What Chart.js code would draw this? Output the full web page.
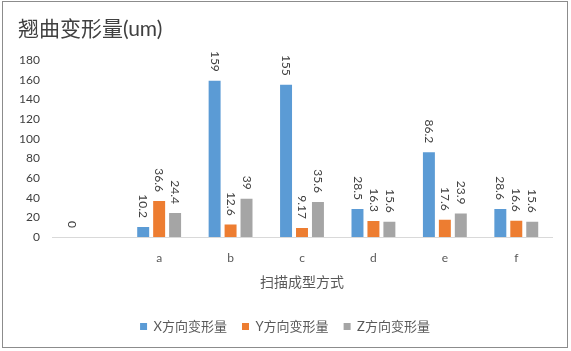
<!DOCTYPE html>
<html>
<head>
<meta charset="utf-8">
<script src="https://cdn.jsdelivr.net/npm/chart.js@4/dist/chart.umd.min.js"></script>
<style>
  html, body { margin: 0; padding: 0; background: #fff; }
  #wrap { width: 571px; height: 351px; position: relative; }
</style>
</head>
<body>
<div id="wrap"><canvas id="c" width="571" height="351"></canvas></div>
<script>
const categories = ['', 'a', 'b', 'c', 'd', 'e', 'f'];
const seriesNames = ['X方向变形量', 'Y方向变形量', 'Z方向变形量'];
const xValues = [0, 10.2, 159, 155, 28.5, 86.2, 28.6];
const yValues = [null, 36.6, 12.6, 9.17, 16.3, 17.6, 16.6];
const zValues = [null, 24.4, 39, 35.6, 15.6, 23.9, 15.6];
const seriesColors = ['#5B9BD5', '#ED7D31', '#A5A5A5'];
const yTicks = { min: 0, max: 180, step: 20 };
const chartTitle = '翘曲变形量(um)';
const xAxisTitle = '扫描成型方式';

const FONT = "Lato, 'Noto Sans CJK SC', sans-serif";

const frame = {
  id: 'frame',
  beforeDraw(chart) {
    const ctx = chart.ctx;
    ctx.save();
    ctx.fillStyle = '#fff';
    ctx.fillRect(0, 0, chart.width, chart.height);
    ctx.strokeStyle = '#8c8c8c';
    ctx.lineWidth = 1;
    ctx.strokeRect(2.5, 1.5, 565, 346);
    ctx.restore();
  }
};

const valueLabels = {
  id: 'valueLabels',
  afterDatasetsDraw(chart) {
    const ctx = chart.ctx;
    ctx.save();
    ctx.font = '12px ' + FONT;
    ctx.fillStyle = '#404040';
    ctx.textAlign = 'left';
    ctx.textBaseline = 'middle';
    chart.data.datasets.forEach((ds, di) => {
      const meta = chart.getDatasetMeta(di);
      meta.data.forEach((el, i) => {
        const v = ds.data[i];
        if (v === null || v === undefined) return;
        const txt = String(v);
        const w = ctx.measureText(txt).width;
        ctx.save();
        ctx.translate(el.x, el.y - 9 - w);
        ctx.rotate(Math.PI / 2);
        ctx.fillText(txt, 0, 0);
        ctx.restore();
      });
    });
    ctx.restore();
  }
};

new Chart(document.getElementById('c'), {
  type: 'bar',
  data: {
    labels: categories,
    datasets: [xValues, yValues, zValues].map((d, i) => ({
      label: seriesNames[i],
      data: d,
      backgroundColor: seriesColors[i],
      borderWidth: 0,
      categoryPercentage: 0.67,
      barPercentage: 0.75
    }))
  },
  options: {
    responsive: false,
    animation: false,
    layout: { padding: { left: 18, right: 19, top: 10, bottom: 8 } },
    scales: {
      x: {
        grid: { display: false, drawTicks: false },
        border: { display: true, color: '#d9d9d9', width: 1 },
        ticks: { color: '#595959', font: { family: FONT, size: 12 }, padding: 14, maxRotation: 0 },
        title: { display: true, text: xAxisTitle, color: '#595959', font: { family: FONT, size: 14 }, padding: { top: 10, bottom: 14 } },
        afterFit(scale) { scale.height = 68; }
      },
      y: {
        min: yTicks.min,
        max: yTicks.max,
        grid: { display: false, drawTicks: false },
        border: { display: false },
        ticks: { stepSize: yTicks.step, color: '#404040', font: { family: FONT, size: 12 }, padding: 12 },
        afterFit(scale) { scale.width = 34; }
      }
    },
    plugins: {
      title: {
        display: true, text: chartTitle, align: 'start', color: '#404040',
        font: { family: FONT, size: 21, weight: 'normal' },
        padding: { top: 7, bottom: 18 }
      },
      legend: {
        position: 'bottom',
        labels: {
          boxWidth: 7, boxHeight: 7, padding: 15, color: '#595959',
          font: { family: FONT, size: 13 }
        }
      },
      tooltip: { enabled: false }
    }
  },
  plugins: [frame, valueLabels]
});
</script>
</body>
</html>
